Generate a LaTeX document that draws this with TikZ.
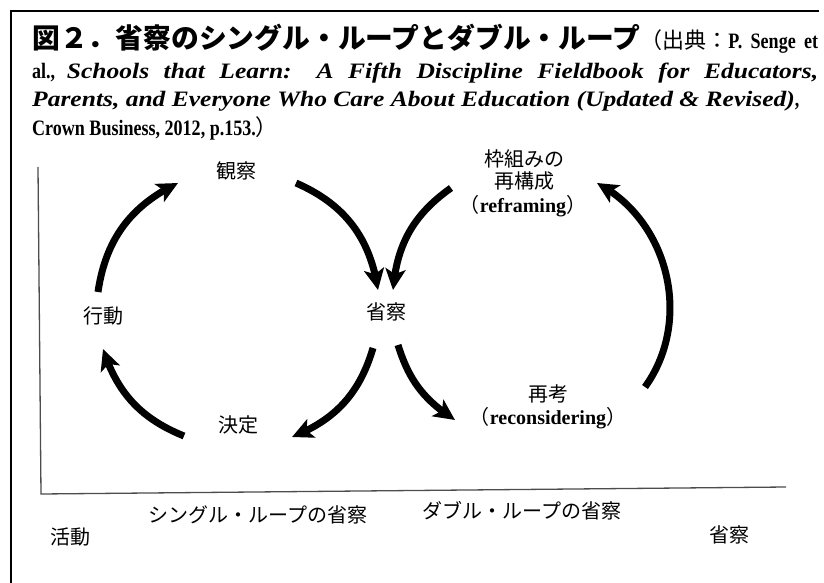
\documentclass[tikz,border=0pt]{standalone}
\usepackage{fontspec}
\setmainfont{Liberation Serif}
\newfontfamily\headrm{Liberation Serif}[BoldFeatures={FakeStretch=0.82}, BoldItalicFeatures={FakeStretch=1.16}]
\newfontfamily\jpfont{Noto Sans CJK JP}
\usetikzlibrary{arrows.meta, bending}
\tikzset{>=stealth}
\tikzset{
  loopar/.style={line width=7pt, -{Stealth[length=21pt,width=20pt,inset=5pt]}},
  jplbl/.style={font=\jpfont\fontsize{20}{24}\selectfont, inner sep=0pt},
  enlbl/.style={font=\bfseries\fontsize{20}{24}\selectfont, inner sep=0pt},
  headline/.style={anchor=base west, inner sep=0pt, font=\headrm\bfseries\fontsize{22}{26}\selectfont},
  axisline/.style={line width=1.3pt, black!70},
}

\begin{document}
\begin{tikzpicture}[x=1pt,y=1pt]
\useasboundingbox (0,0) rectangle (824,582);
% frame
\draw[line width=2.5pt] (819,571) -- (11,571) -- (11,-2);
% heading and source
\node[headline] (head1) at (32,533) {\makebox[786pt][s]{{\jpfont\bfseries\fontsize{27.8}{30}\selectfont 図２．省察のシングル・ループとダブル・ループ}{\jpfont\mdseries\fontsize{22}{26}\selectfont （出典：}P. Senge et}};
\node[headline] (head2) at (32,503) {\makebox[786pt][s]{al., \itshape Schools that Learn: A Fifth Discipline Fieldbook for Educators,}};
\node[headline] (head3) at (32,475) {\itshape Parents, and Everyone Who Care About Education (Updated \& Revised)\upshape,};
\node[headline] (head4) at (32,446) {Crown Business, 2012, p.153.{\jpfont\mdseries\fontsize{22}{26}\selectfont ）}};
% axes
\draw[axisline] (38,415) -- (41,88) -- (786,95);
% labels
\node[jplbl] (obs) at (236,411) {観察};
\node[jplbl] (act) at (103,266) {行動};
\node[jplbl] (refl) at (386,270) {省察};
\node[jplbl] (dec) at (238,157) {決定};
\node[jplbl] (reframe1) at (524,423) {枠組みの};
\node[jplbl] (reframe2) at (524,401) {再構成};
\node[enlbl] (reframe3) at (523,376) {{\jpfont\mdseries （}reframing{\jpfont\mdseries ）}};
\node[jplbl] (recon1) at (548,188) {再考};
\node[enlbl] (recon2) at (548,164) {{\jpfont\mdseries （}reconsidering{\jpfont\mdseries ）}};
\node[jplbl] (single) at (258,67) {シングル・ループの省察};
\node[jplbl] (double) at (522,71) {ダブル・ループの省察};
\node[jplbl] (activity) at (70,45) {活動};
\node[jplbl] (reflection) at (729,47) {省察};
% arrow ends
\coordinate (a1s) at (98,290);  \coordinate (a1e) at (178,399);
\coordinate (a2s) at (296,399); \coordinate (a2e) at (378,292);
\coordinate (a3s) at (373,234); \coordinate (a3e) at (292,145);
\coordinate (a4s) at (184,146); \coordinate (a4e) at (103,233);
\coordinate (b1s) at (398,237); \coordinate (b1e) at (455,162);
\coordinate (b2s) at (645,195); \coordinate (b2e) at (597,399);
\coordinate (b3s) at (451,394); \coordinate (b3e) at (393,292);
% single loop
\draw[loopar] (a1s) to[bend left=28] (a1e);
\draw[loopar] (a2s) to[bend left=29] (a2e);
\draw[loopar] (a3s) to[bend left=26] (a3e);
\draw[loopar] (a4s) to[bend left=25] (a4e);
% double loop
\draw[loopar] (b1s) to[bend right=20] (b1e);
\draw[loopar] (b2s) to[bend right=49] (b2e);
\draw[loopar] (b3s) to[bend right=25] (b3e);
\end{tikzpicture}
\end{document}
